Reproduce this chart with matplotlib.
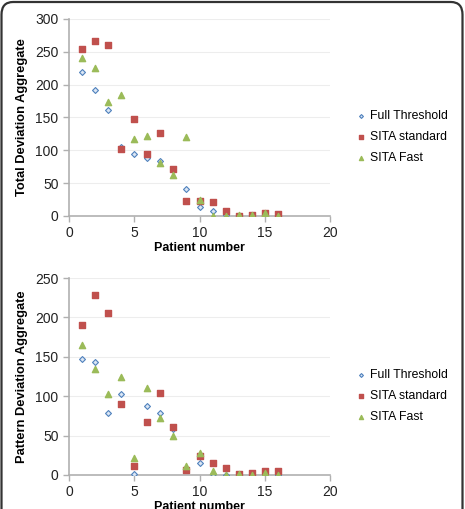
"""Total and pattern deviation aggregates per patient for three perimetry strategies."""

import matplotlib.pyplot as plt
from matplotlib.patches import FancyBboxPatch

plt.rcParams["font.family"] = ["Liberation Sans", "DejaVu Sans"]

patients = list(range(1, 17))

total_full = [219, 192, 161, 105, 94, 89, 83, 72, 41, 14, 7, 2, 0.5, 1.5, 1, 1]
total_standard = [255, 266, 260, 102, 148, 95, 126, 71, 23, 23, 21, 7, 0, 2, 4, 3]
total_fast = [240, 225, 174, 185, 117, 122, 81, 63, 120, 25, 0.5, 0, 1.5, 2, 5, 0]

pattern_full = [147, 144, 79, 103, 1, 87, 79, 58, 6, 15, 1, 0, 1, 0.5, 0, 0.5]
pattern_standard = [190, 228, 205, 90, 11, 67, 104, 61, 6, 24, 15, 9, 1, 2.5, 5, 5]
pattern_fast = [165, 134, 103, 125, 22, 110, 72, 49, 12, 28, 5, 0, 1, 0, 3, 0]

series_names = ["Full Threshold", "SITA standard", "SITA Fast"]

BLUE = "#4F81BD"
RED = "#C0504D"
GREEN = "#9BBB59"
GRID = "#ededed"
SPINE = "#b0b0b0"

fig = plt.figure(figsize=(4.65, 5.09), dpi=100)
W, H = 465, 509

# rounded frame around the figure, open at the bottom
frame = FancyBboxPatch(
    (1.5 / W, -0.05), 1 - 4 / W, 1.05 - 2 / H,
    boxstyle="round,pad=0,rounding_size=0.025",
    transform=fig.transFigure, fill=False, edgecolor="#333333", linewidth=1.6,
)
fig.patches.append(frame)


def panel(rect, full, standard, fast, ymax, ylabel):
    ax = fig.add_axes(rect)
    ax.scatter(patients, full, marker="D", s=9, facecolor="#dbe6f4",
               edgecolor=BLUE, linewidth=0.8, zorder=3, label=series_names[0])
    ax.scatter(patients, standard, marker="s", s=20, color=RED, zorder=3,
               label=series_names[1])
    ax.scatter(patients, fast, marker="^", s=20, color=GREEN, zorder=3,
               label=series_names[2])
    ax.set_xlim(0, 20)
    ax.set_ylim(0, ymax)
    ax.set_xticks([0, 5, 10, 15, 20])
    ax.set_yticks(range(0, ymax + 1, 50))
    ax.grid(axis="y", color=GRID, linewidth=0.8, zorder=0)
    for side in ("top", "right"):
        ax.spines[side].set_visible(False)
    for side in ("left", "bottom"):
        ax.spines[side].set_color(SPINE)
        ax.spines[side].set_linewidth(1.2)
    ax.tick_params(colors=SPINE, labelcolor="#222222", labelsize=10,
                   length=4, width=1)
    ax.set_xlabel("Patient number", fontsize=9, fontweight="bold", labelpad=1)
    ax.set_ylabel(ylabel, fontsize=9.3, fontweight="bold", labelpad=5)
    ax.legend(loc="center left", bbox_to_anchor=(1.05, 0.4), frameon=False,
              fontsize=8.8, handletextpad=0.1, labelspacing=0.75,
              markerscale=0.65, handlelength=1.2)
    return ax


axes_w = (330 - 69) / W
axes_h = (216 - 19) / H
panel([69 / W, 1 - 216 / H, axes_w, axes_h], total_full, total_standard,
      total_fast, 300, "Total Deviation Aggregate")
panel([69 / W, 1 - 475 / H, axes_w, axes_h], pattern_full, pattern_standard,
      pattern_fast, 250, "Pattern Deviation Aggregate")

fig.savefig("out.png", dpi=100)
